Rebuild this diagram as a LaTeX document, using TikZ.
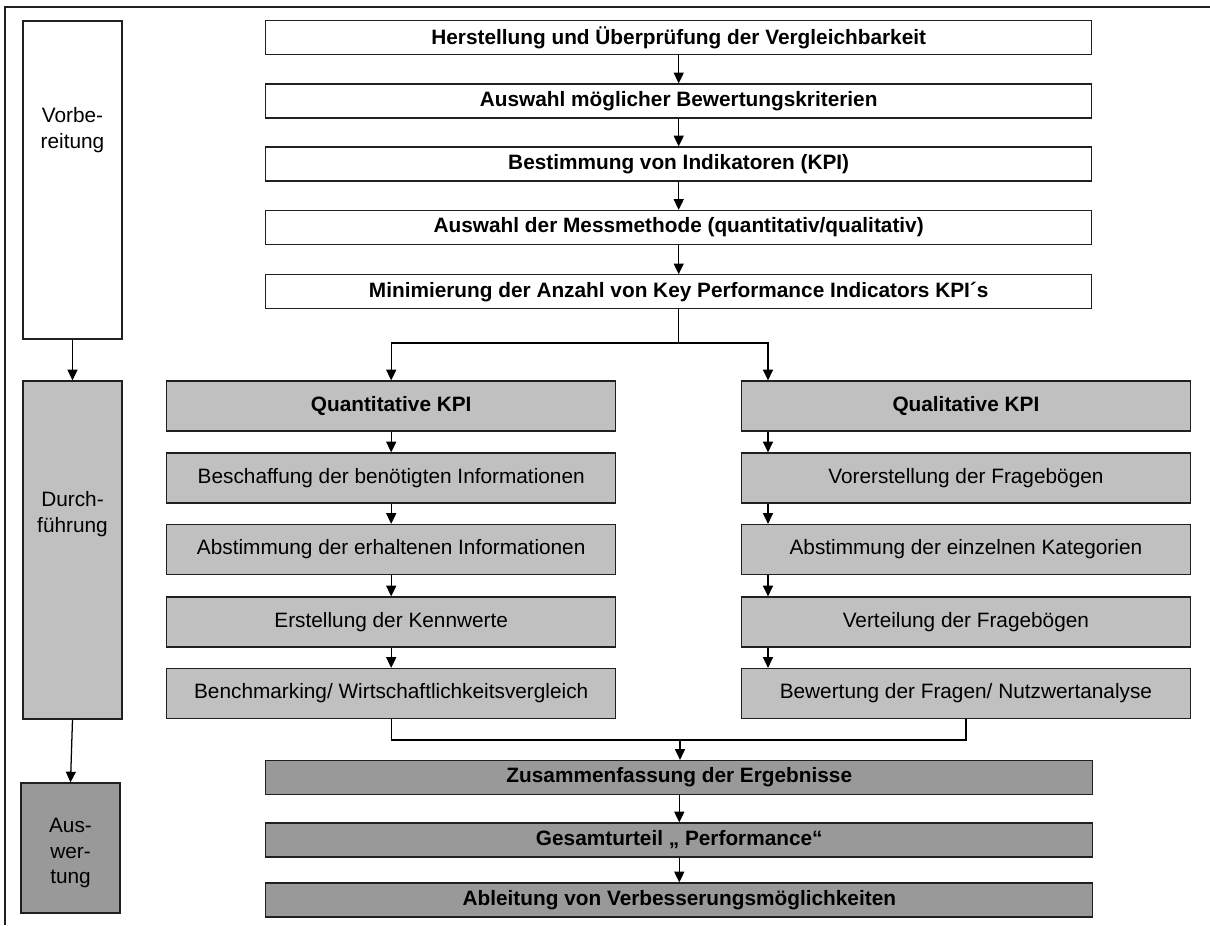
\documentclass[tikz,border=0pt]{standalone}
\usepackage{fontspec}
\setmainfont{Liberation Sans}
\usetikzlibrary{arrows.meta}
\definecolor{lgray}{HTML}{C0C0C0}
\definecolor{dgray}{HTML}{999999}
\definecolor{edge}{HTML}{202020}
\begin{document}
\begin{tikzpicture}[x=0.75pt,y=-0.75pt,
  every node/.style={font=\fontsize{15.6}{19}\selectfont, text=black},
  boxbase/.style={draw=edge, line width=0.95pt, rectangle, inner sep=0pt, align=center},
  whitebox/.style={boxbase, fill=white, font=\fontsize{15.6}{19}\selectfont\bfseries, minimum width=826*0.75pt, minimum height=34*0.75pt},
  colhead/.style={boxbase, fill=lgray, font=\fontsize{15.6}{19}\selectfont\bfseries, minimum width=449*0.75pt, minimum height=50*0.75pt},
  colitem/.style={boxbase, fill=lgray, minimum width=449*0.75pt, minimum height=50*0.75pt},
  darkbox/.style={boxbase, fill=dgray, font=\fontsize{15.6}{19}\selectfont\bfseries, minimum width=827*0.75pt, minimum height=34*0.75pt},
  phasebox/.style={boxbase, minimum width=99*0.75pt},
  phasetext/.style={align=center, inner sep=0pt, font=\fontsize{15.6}{19.2}\selectfont},
  arr/.style={draw=black, line width=0.95pt, -{Triangle[length=8pt,width=7.5pt]}},
  ln/.style={draw=black, line width=0.95pt}
]
\useasboundingbox (0,0) rectangle (1210,925);
% outer frame (top and left edge)
\draw[line width=0.8pt, draw=edge] (5,925) -- (5,7) -- (1210,7);

% phase boxes
\node[phasebox, fill=white, minimum height=318*0.75pt] (vorb) at (72.5,180) {};
\node[phasetext] (vorbT) at (72.5,130) {Vorbe-\\reitung};
\node[phasebox, fill=lgray, minimum height=338*0.75pt] (durch) at (72.5,550) {};
\node[phasetext] (durchT) at (72.5,514) {Durch-\\führung};
\node[phasebox, fill=dgray, minimum height=130*0.75pt] (ausw) at (70.5,848) {};
\node[phasetext] (auswT) at (70.5,853) {Aus-\\wer-\\tung};

\draw[arr] (vorb.south) -- (durch.north);
\draw[arr] (durch.south) -- (ausw.north);

% top sequence
\node[whitebox] (t1) at (678.7,37.5) {Herstellung und Überprüfung der Vergleichbarkeit};
\node[whitebox] (t2) at (678.7,101) {Auswahl möglicher Bewertungskriterien};
\node[whitebox] (t3) at (678.7,164) {Bestimmung von Indikatoren (KPI)};
\node[whitebox] (t4) at (678.7,227.5) {Auswahl der Messmethode (quantitativ/qualitativ)};
\node[whitebox] (t5) at (678.7,291.8) {Minimierung der Anzahl von Key Performance Indicators KPI´s};
\draw[arr] (t1.south) -- (t2.north);
\draw[arr] (t2.south) -- (t3.north);
\draw[arr] (t3.south) -- (t4.north);
\draw[arr] (t4.south) -- (t5.north);

% left column
\node[colhead] (p1) at (391.2,406) {Quantitative KPI};
\node[colitem] (p2) at (391.2,478) {Beschaffung der benötigten Informationen};
\node[colitem] (p3) at (391.2,549.5) {Abstimmung der erhaltenen Informationen};
\node[colitem] (p4) at (391.2,622) {Erstellung der Kennwerte};
\node[colitem] (p5) at (391.2,693.5) {Benchmarking/ Wirtschaftlichkeitsvergleich};
\draw[arr] (p1.south) -- (p2.north);
\draw[arr] (p2.south) -- (p3.north);
\draw[arr] (p3.south) -- (p4.north);
\draw[arr] (p4.south) -- (p5.north);

% right column
\coordinate (xr) at (768,0);
\node[colhead] (q1) at (965.9,406) {Qualitative KPI};
\node[colitem] (q2) at (965.9,478) {Vorerstellung der Fragebögen};
\node[colitem] (q3) at (965.9,549.5) {Abstimmung der einzelnen Kategorien};
\node[colitem] (q4) at (965.9,622) {Verteilung der Fragebögen};
\node[colitem] (q5) at (965.9,693.5) {Bewertung der Fragen/ Nutzwertanalyse};
\draw[arr] (q1.south -| xr) -- (q2.north -| xr);
\draw[arr] (q2.south -| xr) -- (q3.north -| xr);
\draw[arr] (q3.south -| xr) -- (q4.north -| xr);
\draw[arr] (q4.south -| xr) -- (q5.north -| xr);

% branch
\coordinate (br) at (678.7,343);
\draw[ln] (t5.south) -- (br);
\draw[arr] (br) -| (p1.north);
\draw[arr] (br) -| (q1.north -| xr);

% bottom sequence
\node[darkbox] (b1) at (679.3,777.5) {Zusammenfassung der Ergebnisse};
\node[darkbox] (b2) at (679.3,840) {Gesamturteil „ Performance“};
\node[darkbox] (b3) at (679.3,900) {Ableitung von Verbesserungsmöglichkeiten};

% merge
\coordinate (mg) at (680,740);
\draw[ln] (p5.south) |- (mg);
\draw[ln] (q5.south) |- (mg);
\draw[arr] (mg) -- (mg |- b1.north);
\draw[arr] (b1.south) -- (b2.north);
\draw[arr] (b2.south) -- (b3.north);
\end{tikzpicture}
\end{document}
